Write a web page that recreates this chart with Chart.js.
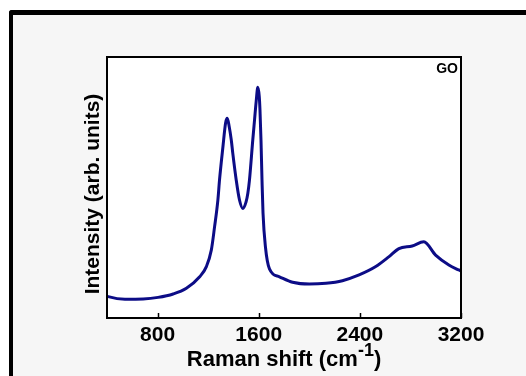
<!DOCTYPE html>
<html>
<head>
<meta charset="utf-8">
<script src="https://cdn.jsdelivr.net/npm/chart.js@4/dist/chart.umd.min.js"></script>
<style>
  html, body { margin: 0; padding: 0; background: #ffffff; }
  #wrap { position: relative; width: 526px; height: 376px; overflow: hidden; }
  #frame { position: absolute; left: 9px; top: 10px; width: 540px; height: 400px;
           border-left: 4px solid #000; border-top: 5px solid #000; border-top-left-radius: 3px;
           background: #f6f6f6; }
  canvas { position: absolute; left: 0; top: 0; }
</style>
</head>
<body>
<div id="wrap">
  <div id="frame"></div>
  <canvas id="c" width="526" height="376"></canvas>
</div>
<script>
// Raman shift (cm^-1)
const ramanShift = [400, 410, 542, 686, 804, 923, 1028, 1133, 1186, 1225, 1251, 1277, 1290, 1317, 1338, 1351, 1366, 1383, 1395, 1422, 1448, 1474, 1500, 1514, 1527, 1553, 1567, 1580, 1593, 1604, 1610, 1618, 1626, 1634, 1653, 1685, 1764, 1868, 2000, 2132, 2262, 2394, 2526, 2631, 2709, 2814, 2906, 2999, 3104, 3182, 3200];
// Intensity (arb. units)
const intensityGO = [8.4, 8.2, 7.2, 7.3, 7.9, 9.2, 11.4, 15.8, 19.7, 26.0, 35.0, 45.2, 52.9, 65.6, 74.7, 76.5, 73.5, 68.2, 63.1, 52.9, 45.2, 42.0, 44.5, 47.8, 52.9, 68.2, 75.9, 83.0, 88.4, 85.0, 79.7, 68.2, 52.9, 40.2, 27.3, 18.8, 15.8, 13.7, 13.0, 13.3, 14.3, 16.5, 19.7, 23.5, 26.6, 27.6, 29.2, 24.1, 20.3, 18.4, 18.0];
const xTicks = [800, 1600, 2400, 3200];
const sampleLabel = 'GO';
const xTitleMain = 'Raman shift (cm';
const xTitleSup = '-1';
const xTitleEnd = ')';
const yTitle = 'Intensity (arb. units)';

const FONT = '"Liberation Sans", Arial, sans-serif';

const decor = {
  id: 'decor',
  beforeDraw(chart) {
    const { ctx, chartArea: a } = chart;
    ctx.save();
    ctx.fillStyle = '#ffffff';
    ctx.fillRect(a.left, a.top, a.right - a.left, a.bottom - a.top);
    ctx.restore();
  },
  afterDraw(chart) {
    const { ctx, chartArea: a } = chart;
    const xs = chart.scales.x;
    ctx.save();
    // box
    ctx.strokeStyle = '#000';
    ctx.lineWidth = 2;
    ctx.strokeRect(a.left, a.top, a.right - a.left, a.bottom - a.top);
    // inward ticks
    ctx.lineWidth = 1.5;
    xTicks.forEach(v => {
      const px = Math.round(xs.getPixelForValue(v)) + 0.5;
      ctx.beginPath();
      ctx.moveTo(px, a.bottom);
      ctx.lineTo(px, a.bottom - 5);
      ctx.stroke();
    });
    // sample label
    ctx.fillStyle = '#000';
    ctx.font = 'bold 14px ' + FONT;
    ctx.textAlign = 'right';
    ctx.textBaseline = 'alphabetic';
    ctx.fillText(sampleLabel, a.right - 3, a.top + 15.5);
    // x title with superscript
    const mainFont = 'bold 22px ' + FONT;
    const supFont = 'bold 18px ' + FONT;
    ctx.font = mainFont;
    const w1 = ctx.measureText(xTitleMain).width;
    const w3 = ctx.measureText(xTitleEnd).width;
    ctx.font = supFont;
    const w2 = ctx.measureText(xTitleSup).width;
    const cx = (a.left + a.right) / 2;
    let x = cx - (w1 + w2 + w3) / 2;
    const base = 366;
    ctx.textAlign = 'left';
    ctx.font = mainFont;
    ctx.fillText(xTitleMain, x, base);
    x += w1;
    ctx.font = supFont;
    ctx.fillText(xTitleSup, x, base - 10);
    x += w2;
    ctx.font = mainFont;
    ctx.fillText(xTitleEnd, x, base);
    // y title
    ctx.translate(93, 194);
    ctx.rotate(-Math.PI / 2);
    ctx.font = 'bold 21px ' + FONT;
    ctx.textAlign = 'center';
    ctx.textBaseline = 'middle';
    ctx.fillText(yTitle, 0, 0);
    ctx.restore();
  }
};

new Chart(document.getElementById('c'), {
  type: 'line',
  data: {
    datasets: [{
      label: sampleLabel,
      data: ramanShift.map((s, i) => ({ x: s, y: intensityGO[i] })),
      borderColor: '#0c0c86',
      borderWidth: 3,
      pointRadius: 0,
      fill: false,
      cubicInterpolationMode: 'monotone'
    }]
  },
  options: {
    responsive: false,
    animation: false,
    layout: { padding: { left: 107, right: 65, top: 57, bottom: 0 } },
    plugins: { legend: { display: false }, tooltip: { enabled: false } },
    scales: {
      x: {
        type: 'linear',
        min: 400,
        max: 3200,
        afterBuildTicks: (s) => { s.ticks = xTicks.map(v => ({ value: v })); },
        afterFit: (s) => { s.height = 58; },
        grid: { display: false, drawTicks: false },
        border: { display: false },
        ticks: {
          color: '#000',
          font: { family: FONT, size: 21, weight: 'bold' },
          padding: 5,
          maxRotation: 0,
          autoSkip: false,
          callback: (v) => String(v)
        }
      },
      y: {
        display: false,
        min: 0,
        max: 100
      }
    }
  },
  plugins: [decor]
});
</script>
</body>
</html>
